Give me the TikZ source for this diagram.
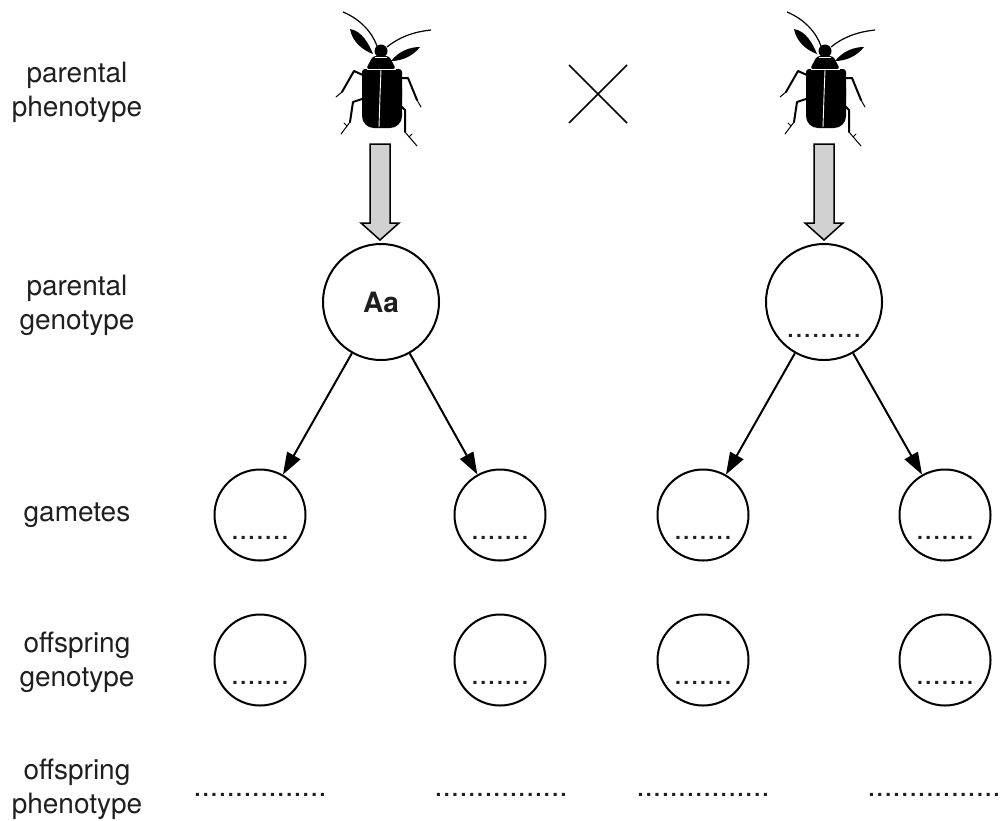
\documentclass[tikz,border=0pt]{standalone}
\usepackage{fontspec}
\setmainfont{TeX Gyre Heros}
\usetikzlibrary{arrows.meta}
\begin{document}
\begin{tikzpicture}[x=1pt,y=-1pt,
  lbl/.style={align=center, font=\fontsize{28}{34}\selectfont, text=black!88, inner sep=0pt},
  ring/.style={circle, draw, line width=2pt, inner sep=0pt, font=\fontsize{28}{34}\selectfont\bfseries, text=black!88},
  bigring/.style={ring, minimum size=116pt},
  smallring/.style={ring, minimum size=91pt},
  dotsf/.style={font=\fontsize{30}{34}\selectfont, inner sep=0pt, text=black!88},
  arr/.style={line width=2pt, -{Triangle[length=22pt,width=15pt]}},
  blockarrow/.style={draw, line width=1.5pt, fill=black!18, line join=miter},
  leg/.style={line width=2pt, line cap=round, line join=round},
  tarsus/.style={line width=1pt, line cap=round},
  beetle/.pic={
    % antennae
    \draw[line width=1.2pt] (377,46) .. controls (372,32) and (360,19) .. (343,12);
    \draw[line width=1.2pt] (387,47) .. controls (398,38) and (412,32) .. (431,30);
    % palps
    \fill (350,29) .. controls (362,31) and (369,44) .. (373,54) .. controls (362,50) and (352,41) .. cycle;
    \fill (391,61) .. controls (399,51) and (410,47) .. (420,47) .. controls (413,56) and (402,61) .. cycle;
    % legs
    \draw[leg] (365,76) -- (354,71) -- (342,92);
    \draw[tarsus] (342,92) -- (336,97);
    \draw[leg] (399,78) -- (408,78) -- (417,100);
    \draw[tarsus] (417,100) -- (421,107);
    \draw[leg] (365,98) -- (353,102) -- (350,122);
    \draw[tarsus] (350,122) -- (341,134);
    \draw[tarsus] (347,126) -- (344,123);
    \draw[leg] (400,105) -- (405,110) -- (405,132);
    \draw[tarsus] (405,132) -- (417,146);
    \draw[tarsus] (409,137) -- (412,134);
    % head
    \fill (381,51) circle (6.5);
    % pronotum
    \fill[rounded corners=3pt] (373,56) -- (389,56) -- (396,69) -- (366,69) -- cycle;
    % elytra
    \fill[rounded corners=12pt] (362,76) -- (362,128) -- (402,128) -- (402,76) -- cycle;
    \fill[rounded corners=3pt] (362,69) rectangle (402,100);
    % white details
    \draw[white, line width=0.9pt] (381,70) .. controls (380,95) .. (379,127);
    \draw[white, line width=0.7pt] (367,69) -- (396,69);
    \draw[white, line width=0.5pt] (375,57) -- (387,57);
  }
]
\useasboundingbox (0,0) rectangle (1003,820);

% row labels
\node[lbl] (l1) at (77,92) {parental\\phenotype};
\node[lbl] (l2) at (77,305) {parental\\genotype};
\node[lbl] (l3) at (77,515) {gametes};
\node[lbl] (l4) at (77,662) {offspring\\genotype};
\node[lbl] (l5) at (77,789) {offspring\\phenotype};

% beetles
\pic at (0,0) {beetle};
\pic at (444,0) {beetle};
\coordinate (b1) at (380,144);
\coordinate (b2) at (824,144);

% cross
\draw[line width=1.6pt] (569,65) -- (627,123);
\draw[line width=1.6pt] (627,65) -- (569,123);

% parental genotypes
\node[bigring] (pg1) at (381,302) {Aa};
\node[bigring, label={[dotsf, yshift=-34pt]center:.........}] (pg2) at (824,302) {};

% block arrows
\draw[blockarrow] (b1) ++(-10,0) -- ++(20,0) -- ++(0,79) -- ++(9,0) -- ++(-19,17) -- ++(-19,-17) -- ++(9,0) -- cycle;
\draw[blockarrow] (b2) ++(-10,0) -- ++(20,0) -- ++(0,79) -- ++(9,0) -- ++(-19,17) -- ++(-19,-17) -- ++(9,0) -- cycle;

% gametes and offspring genotypes
\foreach \n/\x in {1/260, 2/500, 3/703, 4/945}{
  \node[smallring, label={[dotsf, yshift=-23pt]center:.......}] (g\n) at (\x,515) {};
  \node[smallring, label={[dotsf, yshift=-23pt]center:.......}] (o\n) at (\x,660) {};
}
% offspring phenotypes
\node[dotsf] (p1) at (260,795) {................};
\node[dotsf] (p2) at (501,795) {................};
\node[dotsf] (p3) at (703,795) {................};
\node[dotsf, anchor=east] (p4) at (1001,795) {................};

% arrows
\draw[arr] (pg1) -- (g1);
\draw[arr] (pg1) -- (g2);
\draw[arr] (pg2) -- (g3);
\draw[arr] (pg2) -- (g4);
\end{tikzpicture}
\end{document}
